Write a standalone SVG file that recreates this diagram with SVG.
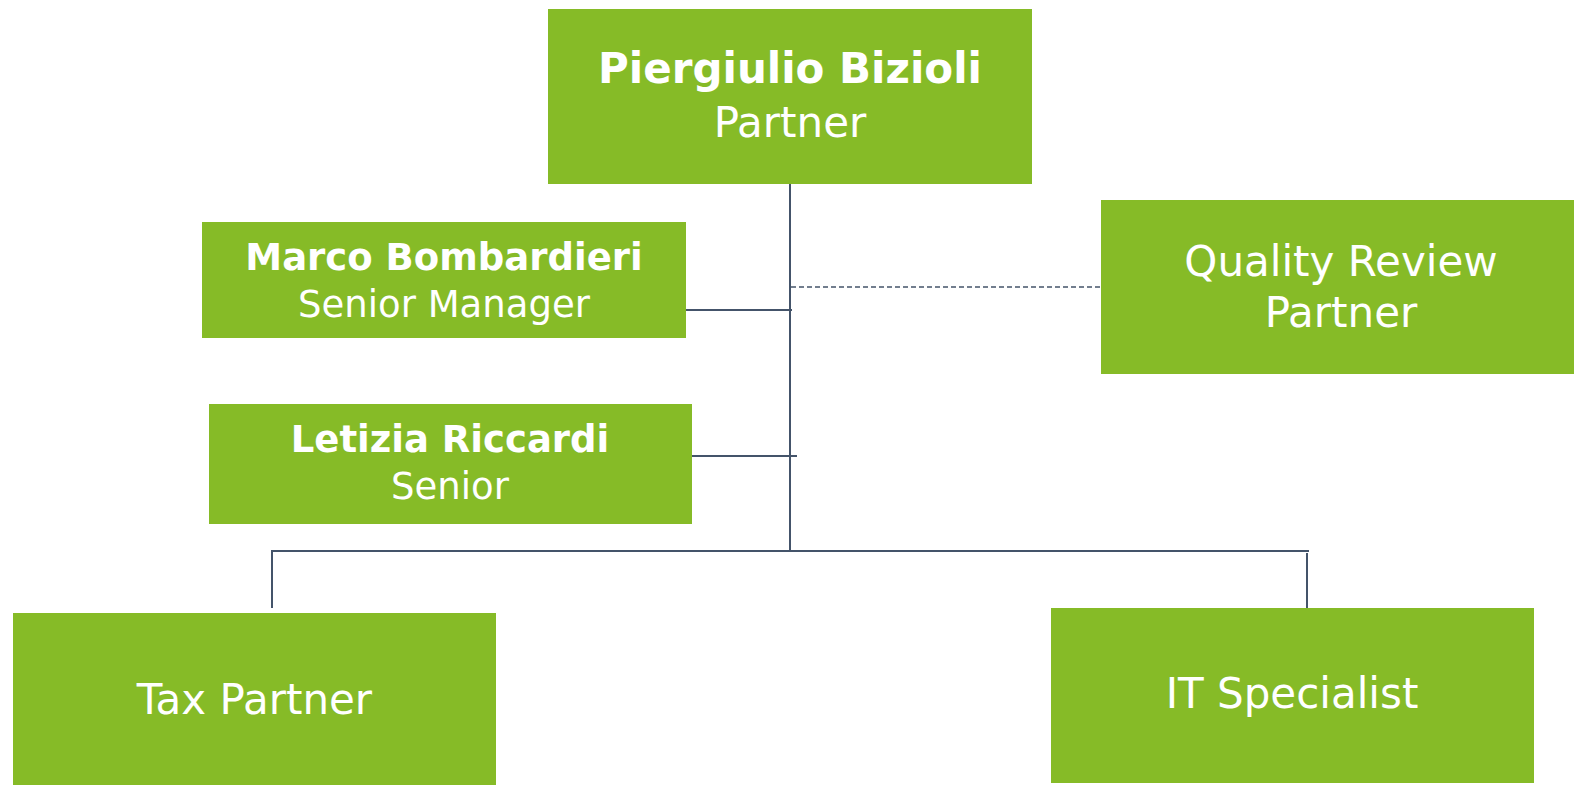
<svg xmlns="http://www.w3.org/2000/svg" width="1574" height="785" viewBox="0 0 1574 785">
  <style>
    .box { fill: #86BB27; }
    .t { font-family: "DejaVu Sans", Verdana, sans-serif; fill: #ffffff; text-anchor: middle; }
    .b { font-weight: bold; }
    .ln { stroke: #44546A; stroke-width: 2; fill: none; }
    .dash { stroke: #44546A; stroke-width: 1.5; fill: none; stroke-dasharray: 5 3; }
  </style>
  <rect width="1574" height="785" fill="#ffffff"/>
  <g id="connectors">
    <line class="ln" x1="790" y1="184" x2="790" y2="552"/>
    <line class="ln" x1="271" y1="551" x2="1309" y2="551"/>
    <line class="ln" x1="272" y1="550" x2="272" y2="608"/>
    <line class="ln" x1="1307" y1="553" x2="1307" y2="609"/>
    <line class="ln" x1="686" y1="310" x2="792" y2="310"/>
    <line class="ln" x1="692" y1="456" x2="797" y2="456"/>
    <line class="dash" x1="791" y1="287" x2="1101" y2="287"/>
  </g>
  <g id="node-bizioli">
    <rect class="box" x="548" y="9" width="484" height="175"/>
    <text class="t b" x="790" y="83" font-size="42">Piergiulio Bizioli</text>
    <text class="t" x="790" y="137" font-size="42">Partner</text>
  </g>
  <g id="node-bombardieri">
    <rect class="box" x="202" y="222" width="484" height="116"/>
    <text class="t b" x="444" y="270" font-size="37">Marco Bombardieri</text>
    <text class="t" x="444" y="317" font-size="37">Senior Manager</text>
  </g>
  <g id="node-riccardi">
    <rect class="box" x="209" y="404" width="483" height="120"/>
    <text class="t b" x="450" y="452" font-size="37">Letizia Riccardi</text>
    <text class="t" x="450" y="499" font-size="37">Senior</text>
  </g>
  <g id="node-quality">
    <rect class="box" x="1101" y="200" width="473" height="174"/>
    <text class="t" x="1341" y="276" font-size="42">Quality Review</text>
    <text class="t" x="1341" y="327" font-size="42">Partner</text>
  </g>
  <g id="node-tax">
    <rect class="box" x="13" y="613" width="483" height="172"/>
    <text class="t" x="254.5" y="714" font-size="42">Tax Partner</text>
  </g>
  <g id="node-it">
    <rect class="box" x="1051" y="608" width="483" height="175"/>
    <text class="t" x="1292" y="708" font-size="42">IT Specialist</text>
  </g>
</svg>
